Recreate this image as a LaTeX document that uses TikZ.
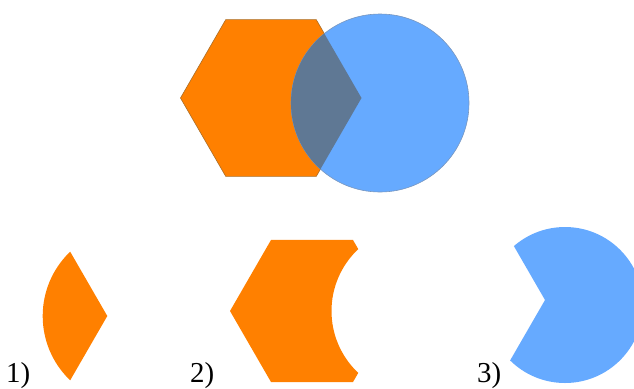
\documentclass[tikz,border=0pt]{standalone}
\usepackage{fontspec}
\setmainfont{Liberation Serif}
\definecolor{orangeC}{RGB}{255,128,0}
\definecolor{blueC}{RGB}{102,170,255}
\definecolor{overlapC}{RGB}{95,120,148}
\definecolor{edgeO}{RGB}{170,110,40}
\definecolor{edgeB}{RGB}{120,150,190}
\tikzset{
  shapeline/.style={line width=0.6bp},
  lbl/.style={anchor=base west, inner sep=0pt, font=\fontsize{29}{29}\selectfont}
}
\begin{document}
\begin{tikzpicture}[x=1bp,y=-1bp]
\useasboundingbox (0,0) rectangle (634,388);
\clip (0,0) rectangle (634,388);
% ---------- top: hexagon and circle ----------
\fill[orangeC, draw=edgeO, shapeline, shift={(271,98)}]
  (0:90.5) -- (60:90.5) -- (120:90.5) -- (180:90.5) -- (240:90.5) -- (300:90.5) -- cycle;
\fill[blueC, draw=edgeB, shapeline] (380,103) circle[radius=89];
\begin{scope}
  \clip (380,103) circle[radius=89];
  \fill[overlapC, shift={(271,98)}]
    (0:90.5) -- (60:90.5) -- (120:90.5) -- (180:90.5) -- (240:90.5) -- (300:90.5) -- cycle;
\end{scope}
% ---------- 1) intersection ----------
\begin{scope}
  \clip (131.7,316) circle[radius=89];
  \fill[orangeC, shift={(16.8,316)}]
    (0:90.5) -- (60:90.5) -- (120:90.5) -- (180:90.5) -- (240:90.5) -- (300:90.5) -- cycle;
\end{scope}
% ---------- 2) hexagon minus circle ----------
\begin{scope}
  \clip[shift={(312,311)}]
    (0:82) -- (60:82) -- (120:82) -- (180:82) -- (240:82) -- (300:82) -- cycle;
  \fill[orangeC, even odd rule]
    (150,200) rectangle (500,420)
    (416.5,311) circle[radius=85];
\end{scope}
% ---------- 3) circle minus hexagon ----------
\begin{scope}
  \clip (565,305) circle[radius=78];
  \fill[blueC, even odd rule]
    (450,200) rectangle (700,420)
    [shift={(455,300)}] (0:90) -- (60:90) -- (120:90) -- (180:90) -- (240:90) -- (300:90) -- cycle;
\end{scope}
% ---------- labels ----------
\node[lbl] (l1) at (6,382) {1)};
\node[lbl] (l2) at (190,382) {2)};
\node[lbl] (l3) at (477,382) {3)};
\end{tikzpicture}
\end{document}
